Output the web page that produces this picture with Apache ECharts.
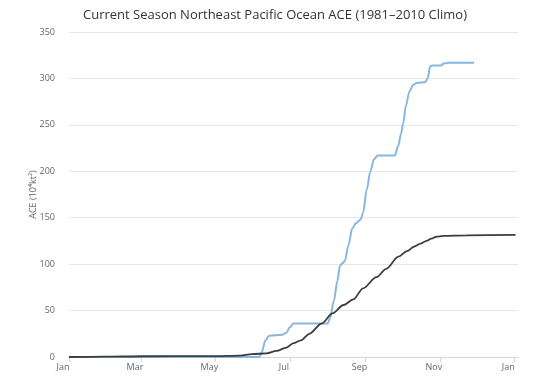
<!DOCTYPE html>
<html>
<head>
<meta charset="utf-8">
<script src="https://cdn.jsdelivr.net/npm/echarts@6/dist/echarts.min.js"></script>
<style>html,body{margin:0;padding:0;background:#fff}#c{width:550px;height:382px}</style>
</head>
<body>
<div id="c"></div>
<script>
// Day of year (0 = Jan 1) and cumulative ACE values
const currentDays = [0,156,158,161,164,175,178,181,184,212,214,217,220,222,224,226,229,232,235,239,241,244,247,250,253,267,270,272,274,276,279,282,285,292,294,296,298,305,307,311,332];
const currentAce  = [0,0,5,18,23,24,26,32,36,36,42,60,82,98,101,103,120,138,144,148,155,180,200,213,217,217,228,240,252,270,286,293,295,296,300,313,314,314,316,317,317];
const climoDays = [0,30,60,120,140,150,162,170,178,184,190,197,207,216,225,233,241,252,260,270,277,283,288,293,297,301,307,326,366];
const climoAce  = [0,0.3,0.8,1,1.5,3,4,6.5,10,15,18,25,36,47,56,62,74,86,95,108,114,119,122,125,127.5,129.5,130.5,131,131.5];
const monthTickDays = [0,59,120,181,243,304,365];
const monthTickLabels = ['Jan','Mar','May','Jul','Sep','Nov','Jan'];
const yTicks = [0,50,100,150,200,250,300,350];

const pair = (xs, ys) => xs.map((x, i) => [x, ys[i]]);
const chart = echarts.init(document.getElementById('c'), null, {renderer: 'canvas'});
const font = '"Open Sans", "DejaVu Sans", sans-serif';
chart.setOption({
  animation: false,
  title: {
    text: 'Current Season Northeast Pacific Ocean ACE (1981\u20132010 Climo)',
    left: 'center', top: 4,
    textStyle: {fontFamily: font, fontSize: 13, fontWeight: 'normal', color: '#333'}
  },
  grid: {left: 69, right: 32, top: 32, bottom: 25},
  xAxis: {
    type: 'value', min: 0, max: 368,
    splitLine: {show: false},
    axisLine: {show: true, lineStyle: {color: '#ccd6eb'}},
    axisTick: {show: true, length: 5, lineStyle: {color: '#ccd6eb'}, customValues: monthTickDays},
    axisLabel: {
      customValues: monthTickDays,
      formatter: v => monthTickLabels[monthTickDays.indexOf(v)] || '',
      fontFamily: font, fontSize: 9, color: '#666', margin: 6,
      padding: [0, 12, 0, 0]
    }
  },
  yAxis: {
    type: 'value', min: yTicks[0], max: yTicks[yTicks.length - 1], interval: 50,
    name: 'ACE (10\u2074kt\u00b2)', nameLocation: 'middle', nameGap: 31, nameRotate: 90,
    nameMoveOverlap: false,
    nameTextStyle: {fontFamily: font, fontSize: 9, color: '#666'},
    axisLine: {show: false}, axisTick: {show: false},
    splitLine: {lineStyle: {color: '#e6e6e6'}},
    axisLabel: {fontFamily: font, fontSize: 9, color: '#666', margin: 14}
  },
  series: [
    {
      type: 'line', name: 'Current', data: pair(currentDays, currentAce),
      showSymbol: false, smooth: 0.3, smoothMonotone: 'x',
      lineStyle: {color: '#88b6e0', width: 2}, itemStyle: {color: '#88b6e0'}
    },
    {
      type: 'line', name: 'Climo', data: pair(climoDays, climoAce),
      showSymbol: false, smooth: 0.3, smoothMonotone: 'x',
      lineStyle: {color: '#3d3d3d', width: 1.8}, itemStyle: {color: '#3d3d3d'}
    }
  ]
});
</script>
</body>
</html>
